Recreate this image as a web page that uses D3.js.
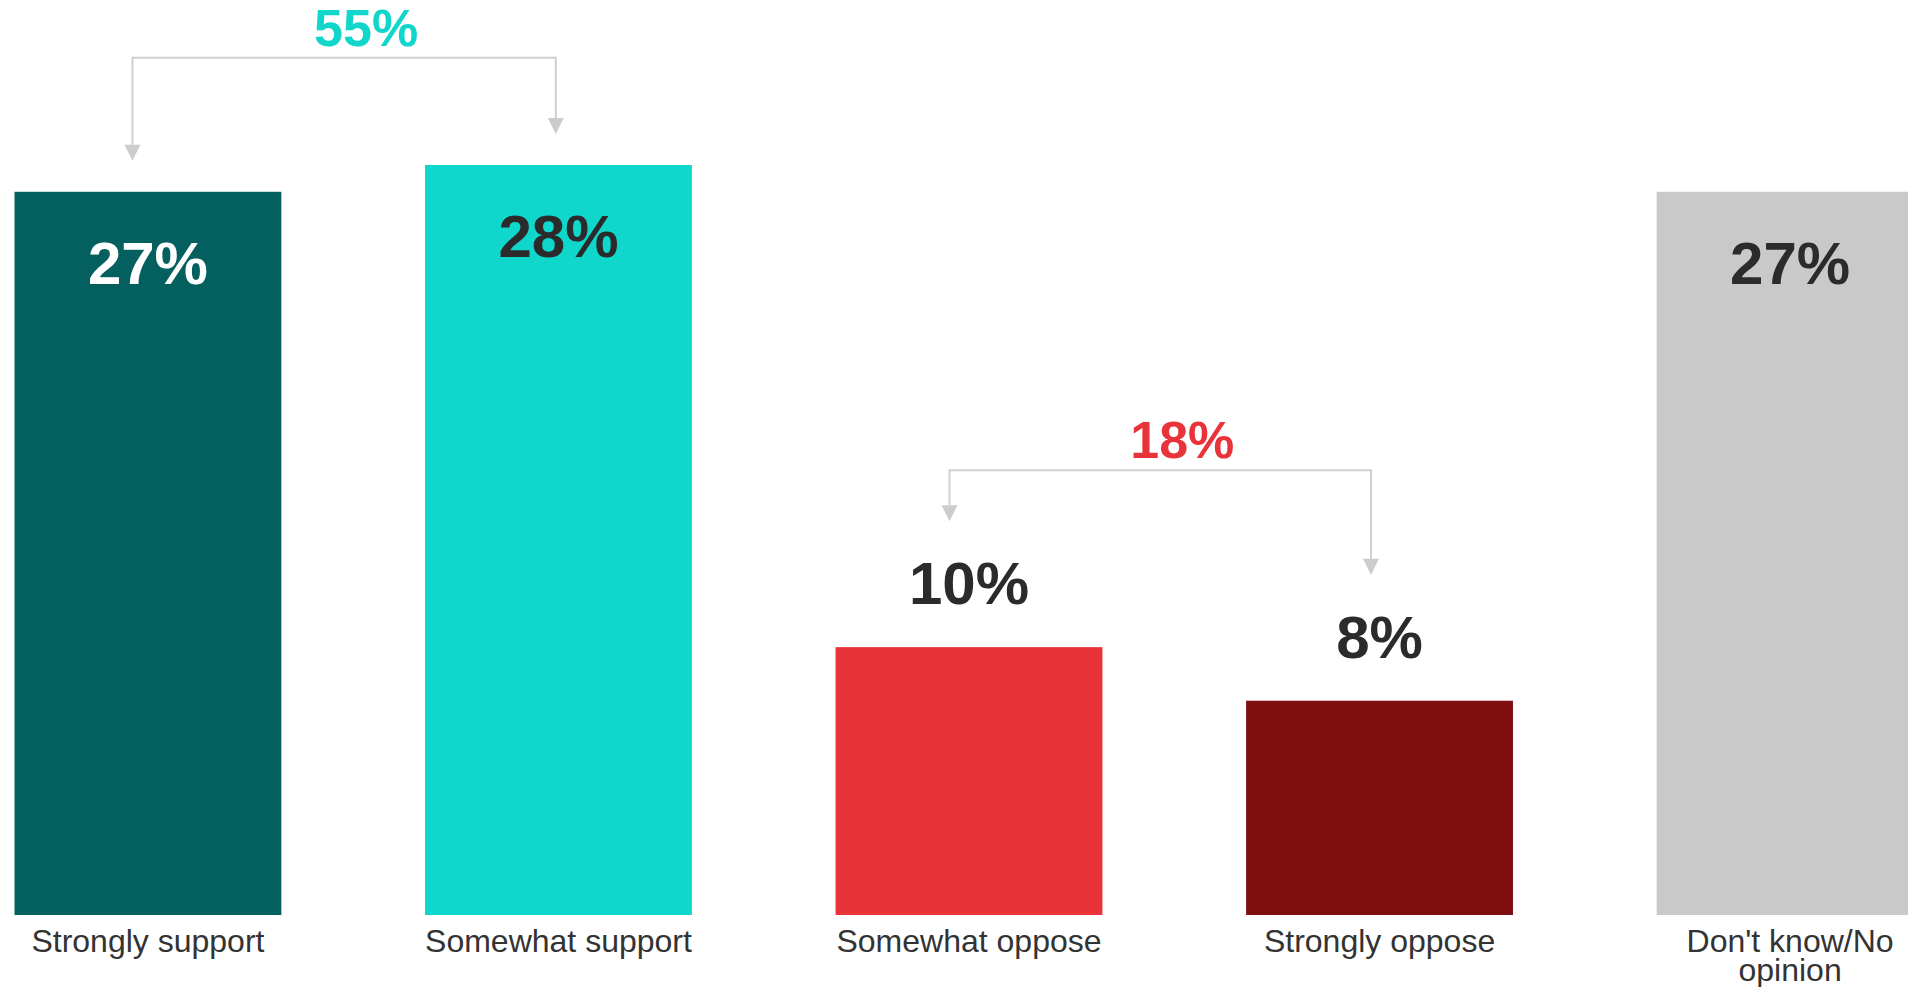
<!DOCTYPE html>
<html>
<head>
<meta charset="utf-8">
<script src="https://cdn.jsdelivr.net/npm/d3@7"></script>
<style>
  html, body { margin: 0; padding: 0; background: #fff; overflow: hidden; }
  svg { display: block; }
  text { font-family: "Liberation Sans", Arial, sans-serif; }
</style>
</head>
<body>
<div id="chart"></div>
<script>
// data
var categories = ["Strongly support", "Somewhat support", "Somewhat oppose", "Strongly oppose", "Don't know/No opinion"];
var values = [27, 28, 10, 8, 27];
var barColors = ["#03605f", "#0fd7cb", "#e83338", "#7f0e10", "#c9c9c9"];
var labelColors = ["#ffffff", "#2b2b2b", "#2b2b2b", "#2b2b2b", "#2b2b2b"];
var labelInside = [true, true, false, false, true];

// bracket annotations (net totals)
var bracketText = ["55%", "18%"];
var bracketFrom = ["Strongly support", "Somewhat oppose"];
var bracketTo = ["Somewhat support", "Strongly oppose"];
var bracketLevel = [32, 16.6];
var bracketColors = ["#10d6cb", "#e8333a"];

var width = 1908, height = 987;

var svg = d3.select("#chart").append("svg")
    .attr("width", width)
    .attr("height", height);

var x = d3.scaleBand()
    .domain(categories)
    .range([14.5, 1923.5])
    .paddingInner(0.35)
    .paddingOuter(0);

var y = d3.scaleLinear()
    .domain([0, 28])
    .range([915, 165]);

var bw = x.bandwidth();

// bars
svg.selectAll("rect.bar")
    .data(values)
    .enter().append("rect")
    .attr("class", "bar")
    .attr("x", function(d, i) { return x(categories[i]) })
    .attr("y", function(d) { return y(d) })
    .attr("width", bw)
    .attr("height", function(d) { return y(0) - y(d) })
    .attr("fill", function(d, i) { return barColors[i] });

// value labels
svg.selectAll("text.val")
    .data(values)
    .enter().append("text")
    .attr("class", "val")
    .attr("x", function(d, i) { return x(categories[i]) + bw / 2 })
    .attr("y", function(d, i) { return labelInside[i] ? y(d) + 92 : y(d) - 43 })
    .attr("text-anchor", "middle")
    .attr("font-size", 60)
    .attr("font-weight", "bold")
    .attr("fill", function(d, i) { return labelColors[i] })
    .text(function(d) { return d + "%" });

// category labels on the bottom axis (wrapped when too wide)
var axis = svg.append("g")
    .attr("transform", "translate(0," + y(0) + ")")
    .call(d3.axisBottom(x).tickSize(0).tickPadding(0));
axis.select(".domain").remove();
axis.selectAll(".tick text")
    .attr("font-size", 32)
    .attr("font-family", "'Liberation Sans', Arial, sans-serif")
    .attr("fill", "#333333")
    .attr("y", 37)
    .attr("dy", 0)
    .each(function(d) {
      var t = d3.select(this);
      var words = d.split(" ");
      t.text(null);
      var line = [];
      var tspan = t.append("tspan").attr("x", 0).attr("y", 37);
      var lineNo = 0;
      words.forEach(function(w) {
        line.push(w);
        tspan.text(line.join(" "));
        if (tspan.node().getComputedTextLength() > bw + 10 && line.length > 1) {
          line.pop();
          tspan.text(line.join(" "));
          line = [w];
          lineNo++;
          tspan = t.append("tspan").attr("x", 0).attr("y", 37).attr("dy", (lineNo * 0.9) + "em").text(w);
        }
      });
    });

// brackets
var fracFrom = [0.442, 0.427];
var fracTo = [0.49, 0.468];
bracketText.forEach(function(txt, k) {
  var iFrom = categories.indexOf(bracketFrom[k]);
  var iTo = categories.indexOf(bracketTo[k]);
  var x1 = x(bracketFrom[k]) + bw * fracFrom[k];
  var x2 = x(bracketTo[k]) + bw * fracTo[k];
  var ly = y(bracketLevel[k]);
  function tipY(i) {
    return labelInside[i] ? y(values[i]) - 31 : y(values[i]) - 126;
  }
  var t1 = tipY(iFrom), t2 = tipY(iTo);
  var g = svg.append("g");
  g.append("path")
    .attr("d", "M" + x1 + "," + (t1 - 16) + "V" + ly + "H" + x2 + "V" + (t2 - 16))
    .attr("fill", "none")
    .attr("stroke", "#d0d0d0")
    .attr("stroke-width", 2);
  [[x1, t1], [x2, t2]].forEach(function(p) {
    g.append("path")
      .attr("d", "M" + (p[0] - 8) + "," + (p[1] - 16) + "L" + (p[0] + 8) + "," + (p[1] - 16) + "L" + p[0] + "," + p[1] + "Z")
      .attr("fill", "#cccccc");
  });
  g.append("text")
    .attr("x", (x1 + x2) / 2 + 22)
    .attr("y", ly - 12)
    .attr("text-anchor", "middle")
    .attr("font-size", 52)
    .attr("font-weight", "bold")
    .attr("fill", bracketColors[k])
    .text(txt);
});
</script>
</body>
</html>
